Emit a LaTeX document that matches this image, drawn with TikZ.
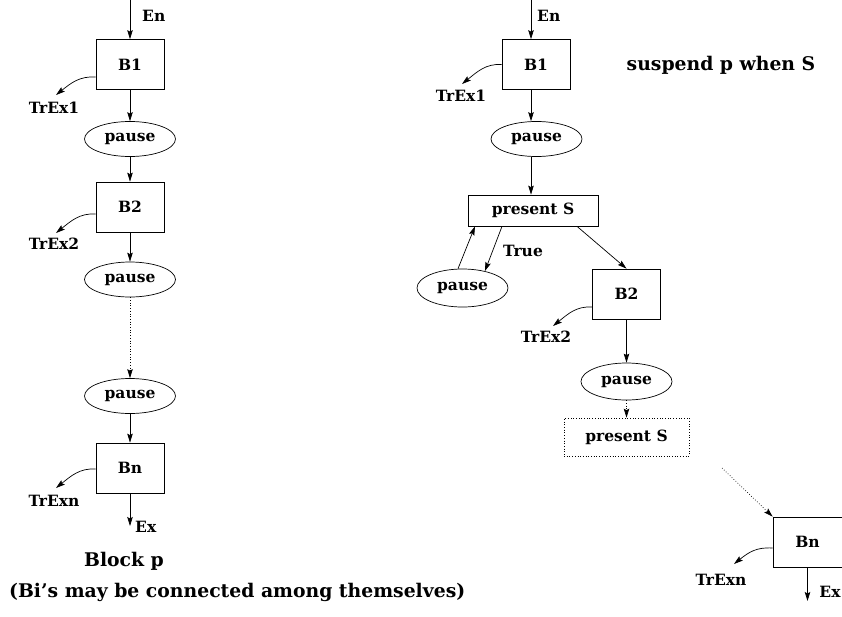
\documentclass[tikz,border=0pt]{standalone}
\usepackage{fontspec}
\setmainfont{DejaVu Serif}
\usetikzlibrary{shapes.geometric,arrows.meta}
\begin{document}
\begin{tikzpicture}[x=1pt,y=-1pt,
  every node/.style={font=\fontsize{15.5}{18}\selectfont\bfseries, inner sep=0pt},
  blk/.style={draw, line width=0.7pt, minimum width=68pt, minimum height=50pt},
  pse/.style={draw, ellipse, line width=0.7pt, minimum width=91pt, minimum height=35pt},
  big/.style={font=\fontsize{18.8}{22}\selectfont\bfseries},
  flow/.style={line width=0.7pt, -{Stealth[length=9pt,width=5.5pt,inset=1.5pt]}},
  dotflow/.style={flow, dotted},
  exitarc/.style={flow, to path={.. controls +(-16,-1) and +(15,-12) .. (\tikztotarget)}},
]
\useasboundingbox (0,0) rectangle (842,616);

% ---------- Block p ----------
\node[blk] (B1L) at (130,64.5) {B1};
\node[pse] (P1L) at (130,139) {pause};
\node[blk] (B2L) at (130,207) {B2};
\node[pse] (P2L) at (130,279.5) {pause};
\node[pse] (P3L) at (130,396) {pause};
\node[blk] (BnL) at (130,468) {Bn};

\coordinate (EnL) at (130,0);
\node[anchor=west] (EnLt) at (142,16) {En};
\node (T1L) at (54,108) {TrEx1};
\node (T2L) at (54,244) {TrEx2};
\node (TnL) at (54,501) {TrExn};
\coordinate (ExL) at (130,526);
\node[anchor=west] (ExLt) at (135,527) {Ex};
\coordinate (T1Le) at (56,95);
\coordinate (T2Le) at (56,233);
\coordinate (TnLe) at (56,488);

\draw[flow] (EnL) -- (B1L.north);
\draw[flow] (B1L.south) -- (P1L.north);
\draw[flow] (P1L.south) -- (B2L.north);
\draw[flow] (B2L.south) -- (P2L.north);
\draw[dotflow] (P2L.south) -- (P3L.north);
\draw[flow] (P3L.south) -- (BnL.north);
\draw[flow] (BnL.south) -- (ExL);
% exception exits curve off the left side of each block
\draw[exitarc] ([yshift=-12.5]B1L.west) to (T1Le);
\draw[exitarc] ([yshift=-7]B2L.west) to (T2Le);
\draw[exitarc] ([yshift=-1]BnL.west) to (TnLe);

\node[big] (capA) at (124,561) {Block p};
\node[big,anchor=west] (capB) at (9,592) {(Bi's may be connected among themselves)};

% ---------- suspend p when S ----------
\node[big] (title) at (721,65) {suspend p when S};

\node[blk] (B1R) at (536,64.5) {B1};
\node[pse] (P1R) at (536.5,139) {pause};
\node[draw, line width=0.7pt, minimum width=130pt, minimum height=31pt] (PSR) at (533,210.5) {present S};
\node[pse, minimum height=38pt] (PLR) at (462.5,288) {pause};
\node[blk] (B2R) at (626.5,294) {B2};
\node[pse, minimum height=37pt] (P2R) at (626.5,381.5) {pause};
\node[draw, dotted, line width=0.7pt, minimum width=125pt, minimum height=38pt] (PS2R) at (626.5,437) {present S};
\node[blk, minimum width=69pt] (BnR) at (807.5,542) {Bn};

\coordinate (EnR) at (531,0);
\node[anchor=west] (EnRt) at (537,16) {En};
\node (T1R) at (461,96) {TrEx1};
\node (TrueR) at (523,251) {True};
\node (T2R) at (546,337) {TrEx2};
\node (TnR) at (721,580) {TrExn};
\coordinate (ExR) at (807.5,601);
\node (ExRt) at (830,592) {Ex};
\coordinate (T1Re) at (462,84);
\coordinate (T2Re) at (553,326);
\coordinate (TnRe) at (734,564);
\coordinate (dotR) at (722,468);

\draw[flow] (EnR) -- ([xshift=-5]B1R.north);
\draw[flow] ([xshift=-5]B1R.south) -- ([xshift=-5.5]P1R.north);
\draw[flow] ([xshift=-5.5]P1R.south) -- ([xshift=-2]PSR.north);
\draw[flow] ([xshift=-4.5]PLR.north) -- ([xshift=-58]PSR.south);
\draw[flow] ([xshift=-31]PSR.south) -- (PLR.37);
\draw[flow] ([xshift=44]PSR.south) -- (B2R.north);
\draw[flow] (B2R.south) -- (P2R.north);
\draw[dotflow] (P2R.south) -- (PS2R.north);
\draw[dotflow] (dotR) -- (BnR.north west);
\draw[flow] (BnR.south) -- (ExR);
\draw[exitarc] (B1R.west) to (T1Re);
\draw[exitarc] ([yshift=-13]B2R.west) to (T2Re);
\draw[exitarc] ([yshift=-6]BnR.west) to (TnRe);
\end{tikzpicture}
\end{document}
